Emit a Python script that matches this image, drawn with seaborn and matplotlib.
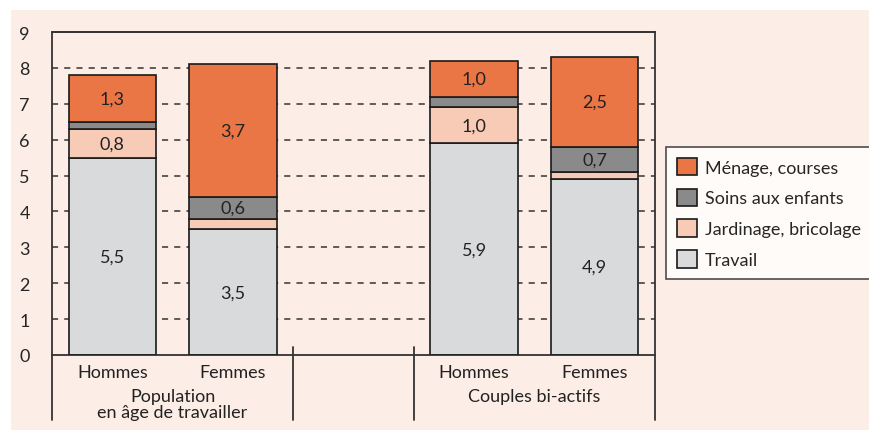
import numpy as np
import pandas as pd
import matplotlib
matplotlib.use("Agg")
import matplotlib.pyplot as plt
import seaborn as sns
from matplotlib.patches import Rectangle

# data
bar_pos = [0, 1, 3, 4]
bar_names = ["Hommes", "Femmes", "Hommes", "Femmes"]
groups = ["Population\nen âge de travailler", "Couples bi-actifs"]
group_pos = [0.5, 3.5]
layers = ["Travail", "Jardinage, bricolage", "Soins aux enfants", "Ménage, courses"]
travail = [5.5, 3.5, 5.9, 4.9]
jardinage = [0.8, 0.3, 1.0, 0.2]
soins = [0.2, 0.6, 0.3, 0.7]
menage = [1.3, 3.7, 1.0, 2.5]
colors = ["#d9dadc", "#f8cbb7", "#8a8a8a", "#ea7645"]

values = [travail, jardinage, soins, menage]

sns.set_style("white")
plt.rcParams["font.family"] = ["Lato", "DejaVu Sans"]
plt.rcParams["font.size"] = 12

bg = "#fcede6"
fig = plt.figure(figsize=(8.7, 4.31), dpi=100, facecolor="white")
fig.patches.append(Rectangle((11 / 870, 0), 1, 1 - 11 / 431, transform=fig.transFigure,
                             facecolor=bg, edgecolor="none", zorder=-10))
ax = fig.add_axes([52 / 870, 75 / 431, 603 / 870, 323 / 431])
ax.set_facecolor(bg)

# dashed grid
for y in range(1, 9):
    ax.axhline(y, color="#333333", lw=1.1, ls=(0, (4, 4)), zorder=0)

bottom = np.zeros(4)
for name, vals, col in zip(layers, values, colors):
    df = pd.DataFrame({"x": bar_pos, "y": vals})
    sns.barplot(data=df, x="x", y="y", native_scale=True, width=0.725, color=col,
                bottom=bottom, edgecolor="#1a1a1a", linewidth=1.2, saturation=1,
                label=name, ax=ax, zorder=2)
    for xp, v, b in zip(bar_pos, vals, bottom):
        if v >= 0.5:
            ax.text(xp, b + v / 2, f"{v:.1f}".replace(".", ","), ha="center", va="center",
                    fontsize=13, color="#222222", zorder=3)
    bottom = bottom + np.array(vals)

if ax.get_legend() is not None:
    ax.get_legend().remove()

ax.set_xlim(-0.5, 4.5)
ax.set_ylim(0, 9)
ax.set_xlabel("")
ax.set_ylabel("")
ax.set_yticks(range(0, 10))
ax.tick_params(axis="y", direction="out", length=12, width=1.1, color="#222222",
               labelsize=13, pad=4)
ax.set_xticks([0.5, 3.5])
ax.set_xticklabels(["", ""])
ax.tick_params(axis="x", direction="in", length=8, width=1.1, color="#222222")

for s in ["left", "right"]:
    ax.spines[s].set_visible(False)
ax.spines["top"].set_color("#111111")
ax.spines["bottom"].set_color("#222222")
ax.spines["top"].set_linewidth(1.2)
ax.spines["bottom"].set_linewidth(1.2)

# vertical frame lines extending below the axis
for xp in [-0.5, 4.5]:
    ax.plot([xp, xp], [9, -1.82], color="#333333", lw=1.3, clip_on=False, zorder=4)
for xp in [1.5, 2.5]:
    ax.plot([xp, xp], [0.22, -1.82], color="#333333", lw=1.3, clip_on=False, zorder=4)

for xp, nm in zip(bar_pos, bar_names):
    ax.text(xp, -0.48, nm, ha="center", va="center", fontsize=13, color="#222222")
for xp, g in zip(group_pos, groups):
    ax.text(xp, -0.93, g, ha="center", va="top", fontsize=13, color="#222222",
            linespacing=1.0)

handles, labels = ax.get_legend_handles_labels()
leg = fig.legend(handles[::-1], labels[::-1], loc="upper left",
                 bbox_to_anchor=(666 / 870, 1 - 148 / 431), bbox_transform=fig.transFigure,
                 borderaxespad=0, frameon=True, fancybox=False,
                 fontsize=13, handlelength=1.1, handleheight=1.1, handletextpad=0.45,
                 labelspacing=0.72, borderpad=0.6)
leg.get_frame().set_edgecolor("#222222")
leg.get_frame().set_linewidth(1.2)
leg.get_frame().set_facecolor("white")

fig.savefig("out.png", dpi=100, facecolor="white")
